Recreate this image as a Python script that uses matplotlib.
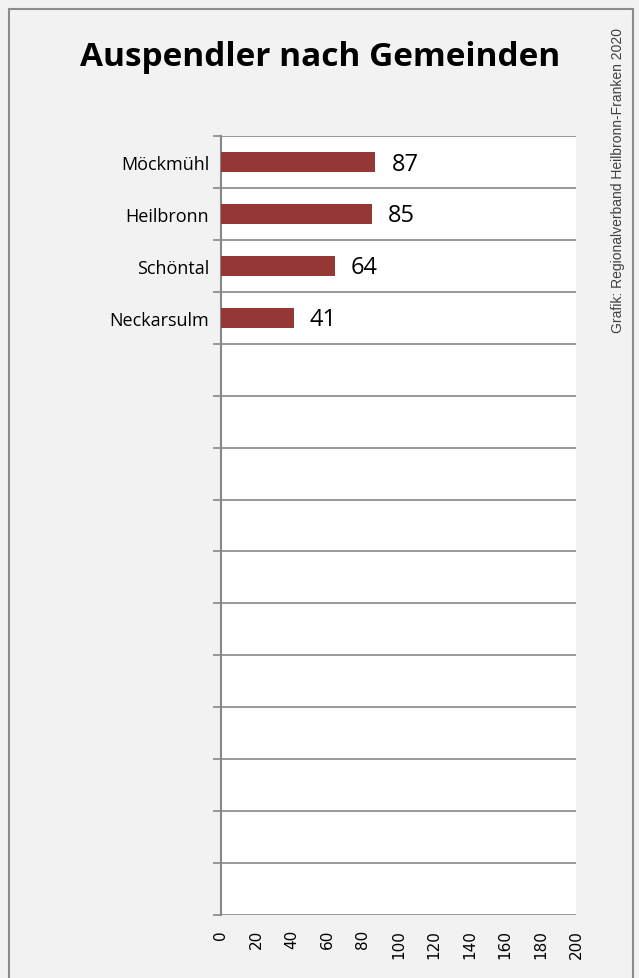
import matplotlib
matplotlib.use('Agg')
import matplotlib.pyplot as plt
from matplotlib.patches import Rectangle
import numpy as np

# Daten
gemeinden = ['Möckmühl', 'Heilbronn', 'Schöntal', 'Neckarsulm'] + [''] * 11
werte = [87, 85, 64, 41]
x_ticks = list(range(0, 201, 20))

titel = 'Auspendler nach Gemeinden'
quelle = 'Grafik: Regionalverband Heilbronn-Franken 2020'

grau = '#878787'
balken = '#953735'

fig = plt.figure(figsize=(6.39, 9.79), dpi=100)
fig.patch.set_facecolor('#f2f2f2')

# Rahmen um das Diagramm
rahmen = Rectangle((9/639, -0.05), (633-9)/639, 1.05 - 10/979, transform=fig.transFigure,
                   fill=False, edgecolor='#8c8c8c', linewidth=1.5)
fig.patches.append(rahmen)

ax = fig.add_axes([221/639, 63/979, (576-221)/639, (916-137)/979])
ax.set_facecolor('white')

pos = np.arange(len(gemeinden))
ax.barh(pos[:len(werte)], werte, height=0.39, color=balken, zorder=3)

for p, w in zip(pos, werte):
    ax.text(w + 9, p + 0.03, str(w), va='center', ha='left', fontsize=17,
            family=['Open Sans', 'DejaVu Sans'], color='black', zorder=4)

ax.set_xlim(0, 200)
ax.set_ylim(len(gemeinden) - 0.5, -0.5)

# Kategorienbeschriftung
ax.set_yticks(pos)
ax.set_yticklabels(gemeinden, family=['Open Sans', 'DejaVu Sans'], fontsize=13)
ax.tick_params(axis='y', which='major', length=0, pad=8.5)

# Trennlinien zwischen den Kategorien
ax.set_yticks(np.arange(-0.5, len(gemeinden), 1), minor=True)
ax.tick_params(axis='y', which='minor', length=6, width=1.2, color=grau)
ax.grid(axis='y', which='minor', color=grau, linewidth=1.2, zorder=1)

ax.set_xticks(x_ticks)
ax.set_xticklabels([str(t) for t in x_ticks], rotation=90, fontsize=11,
                   family=['DejaVu Sans'], va='top')
ax.tick_params(axis='x', length=0, pad=10)

for s in ['top', 'right']:
    ax.spines[s].set_visible(False)
ax.spines['left'].set_color(grau)
ax.spines['left'].set_linewidth(1.5)
ax.spines['bottom'].set_visible(False)

fig.text(320/639, 1 - 57/979, titel, ha='center', va='center', fontsize=24,
         fontweight='bold', family=['Open Sans', 'DejaVu Sans'])

fig.text(618/639, 1 - 28/979, quelle, rotation=90, ha='center', va='top',
         fontsize=10, color='#404040',
         family=['Liberation Sans Narrow', 'Liberation Sans', 'DejaVu Sans'])

fig.savefig('out.png', dpi=100, facecolor=fig.get_facecolor())
